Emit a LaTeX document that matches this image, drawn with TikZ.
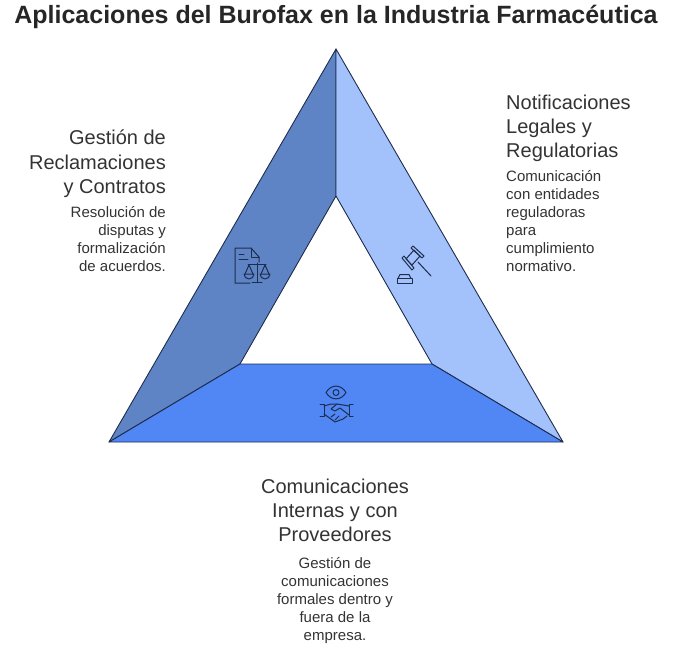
\documentclass[tikz,border=0pt]{standalone}
\usepackage{fontspec}
\setmainfont{Liberation Sans}
\definecolor{panelleft}{HTML}{5F84C6}
\definecolor{panelright}{HTML}{A3C1FB}
\definecolor{panelbottom}{HTML}{5087F5}
\definecolor{edgecol}{HTML}{1E2D4D}
\definecolor{inkcol}{HTML}{333333}
\tikzset{
  panel/.style={draw=edgecol, line width=0.9pt, line join=round},
  titletext/.style={font=\fontsize{25}{29}\selectfont\bfseries, text=black!85, inner sep=0pt},
  headright/.style={font=\fontsize{20}{24.3}\selectfont, text=inkcol, align=right, anchor=north east, inner sep=0pt},
  headleft/.style={font=\fontsize{20}{24.3}\selectfont, text=inkcol, align=left, anchor=north west, inner sep=0pt},
  headmid/.style={font=\fontsize{20}{24.3}\selectfont, text=inkcol, align=center, anchor=north, inner sep=0pt},
  bodyright/.style={font=\fontsize{15}{18}\selectfont, text=inkcol, align=right, anchor=north east, inner sep=0pt},
  bodyleft/.style={font=\fontsize{15}{18}\selectfont, text=inkcol, align=left, anchor=north west, inner sep=0pt},
  bodymid/.style={font=\fontsize{15}{18}\selectfont, text=inkcol, align=center, anchor=north, inner sep=0pt},
  icon/.style={draw=edgecol, line width=1pt, line join=round, line cap=round},
}
\begin{document}
\begin{tikzpicture}[x=1pt, y=-1pt]
\useasboundingbox (0,0) rectangle (674,648);
\coordinate (top) at (336,49);
\coordinate (left) at (109,442);
\coordinate (right) at (563,442);
\coordinate (intop) at (336,196);
\coordinate (inleft) at (240,364);
\coordinate (inright) at (432,364);
% three panels
\draw[panel, fill=panelleft] (top) -- (intop) -- (inleft) -- (left) -- cycle;
\draw[panel, fill=panelright] (top) -- (right) -- (inright) -- (intop) -- cycle;
\draw[panel, fill=panelbottom] (left) -- (inleft) -- (inright) -- (right) -- cycle;
% texts
\node[titletext] (title) at (336,17) {Aplicaciones del Burofax en la Industria Farmacéutica};
\node[headright] (headclaims) at (166,130) {Gestión de\\Reclamaciones\\y Contratos};
\node[bodyright] (bodyclaims) at (166,206.5) {Resolución de\\disputas y\\formalización\\de acuerdos.};
\node[headleft] (headlegal) at (506,94.5) {Notificaciones\\Legales y\\Regulatorias};
\node[bodyleft] (bodylegal) at (506,170.5) {Comunicación\\con entidades\\reguladoras\\para\\cumplimiento\\normativo.};
\node[headmid] (headcomms) at (335,478.5) {Comunicaciones\\Internas y con\\Proveedores};
\node[bodymid] (bodycomms) at (335,557.5) {Gestión de\\comunicaciones\\formales dentro y\\fuera de la\\empresa.};
% document and scales
\draw[icon] (250,283) -- (235,283) -- (235,248) -- (251,248) -- (259,257) -- (259,262);
\draw[icon] (251,248) -- (251,257) -- (259,257);
\draw[icon] (239,254) -- (244,254) (239,259) -- (248,259);
\draw[icon] (257,263) -- (257,282) (252,282) -- (262,282);
\draw[icon] (248,264.5) -- (266,264.5);
\draw[icon] (249,265) -- (245,274) (249,265) -- (253,274);
\draw[icon] (244,274) -- (254,274) arc (0:180:5);
\draw[icon] (265,265) -- (261,274) (265,265) -- (269,274);
\draw[icon] (260,274) -- (270,274) arc (0:180:5);
% gavel
\draw[icon] (406,259) -- (412,265) -- (420,256) -- (414,250) -- cycle;
\draw[icon] (402,258) -- (404,256) -- (414,268) -- (412,270) -- cycle;
\draw[icon] (411,248) -- (413,246) -- (424,256) -- (422,258) -- cycle;
\draw[icon] (418,262) -- (431,276);
\draw[icon] (397,278.5) -- (412,278.5) -- (412,283) -- (397,283) -- cycle;
\draw[icon] (398,278.5) -- (400,274.5) -- (409,274.5) -- (411,278.5);
% eye and handshake
\draw[icon] (326,392.5) .. controls (331,384) and (341,384) .. (346,392.5) .. controls (341,401) and (331,401) .. (326,392.5) -- cycle;
\draw[icon] (336,392.5) circle (3);
\draw[icon] (320,404) -- (324,404) -- (324,416) -- (320,416);
\draw[icon] (353,404) -- (349,404) -- (349,416) -- (353,416);
\draw[icon] (324,406) -- (331,404) -- (337,404) -- (349,406);
\draw[icon] (337,404) -- (331,409) -- (335,411) -- (340,408) -- (349,415);
\draw[icon] (324,414) -- (335,422) -- (343,419) -- (347,416);
\draw[icon] (331,417) -- (335,414) (335,420) -- (339,416);
\end{tikzpicture}
\end{document}
